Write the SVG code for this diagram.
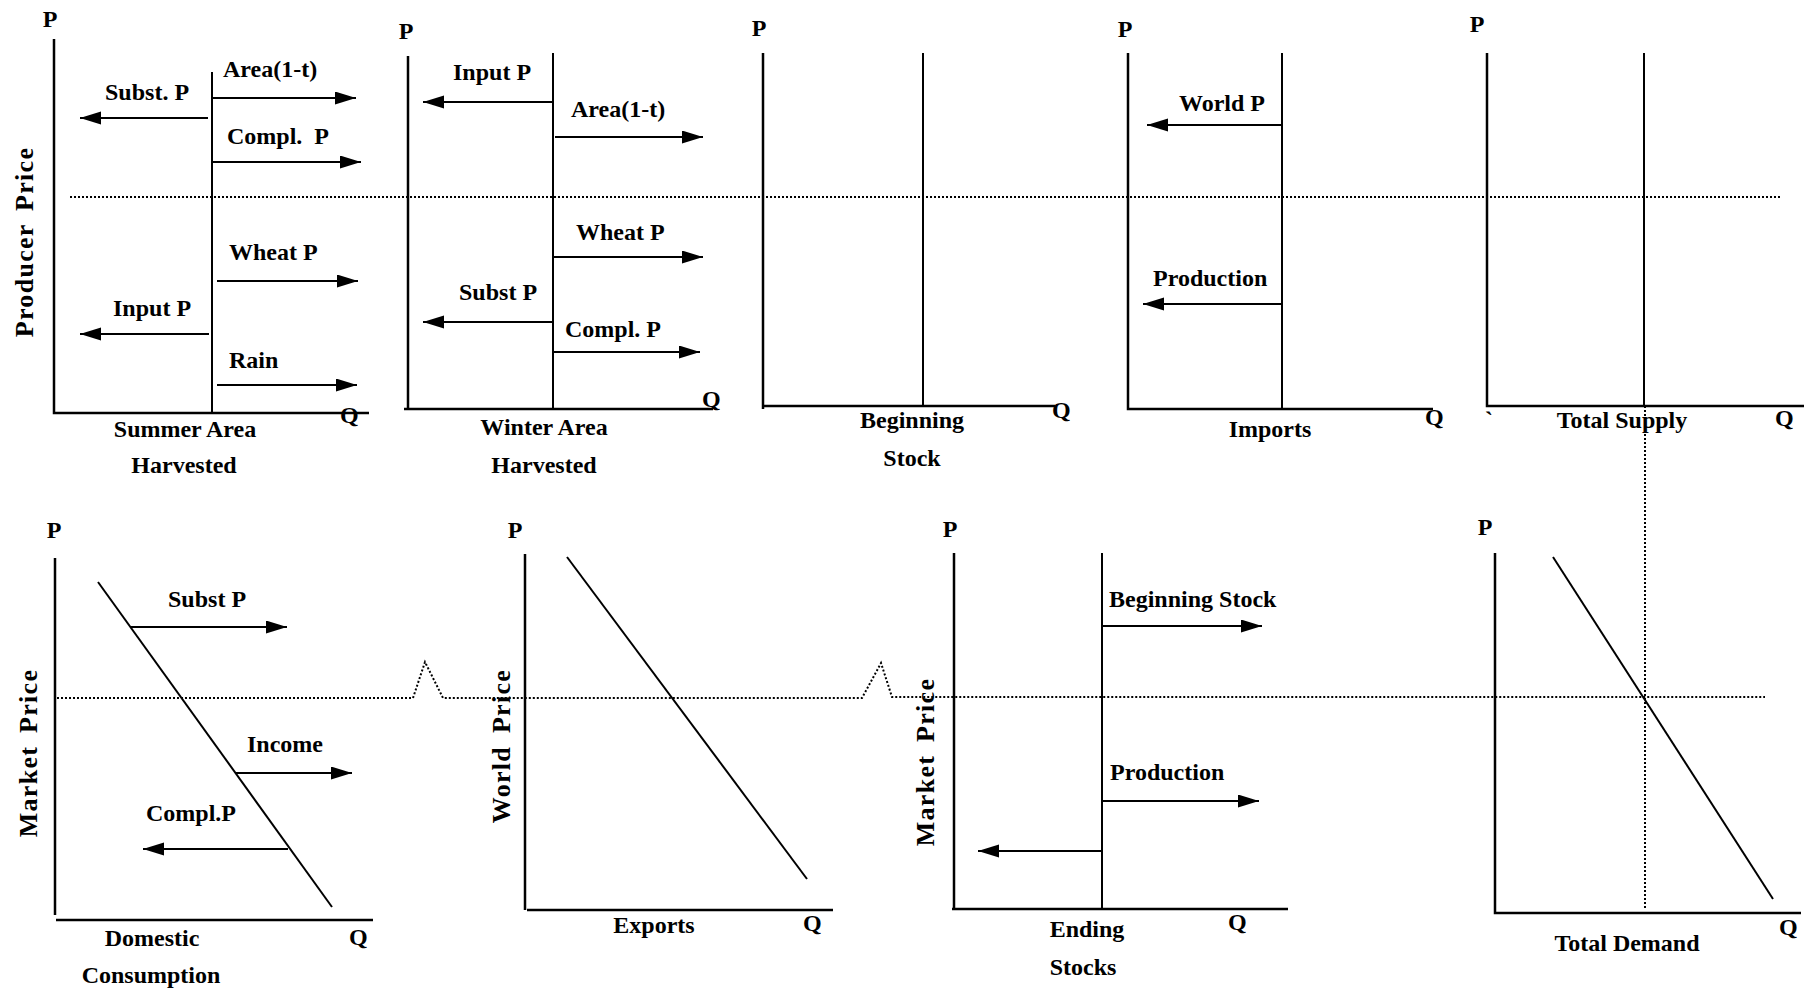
<svg xmlns="http://www.w3.org/2000/svg" width="1805" height="992" viewBox="0 0 1805 992">
<style>
text{font-family:"Liberation Serif","Times New Roman",serif;font-weight:bold;font-size:24px;fill:#000}
.m{text-anchor:middle}
.ax{fill:none;stroke:#000;stroke-width:2.5}
.ln{fill:none;stroke:#000;stroke-width:2}
.ar{fill:none;stroke:#000;stroke-width:2.2;marker-end:url(#ah)}
.dt{fill:none;stroke:#000;stroke-width:2;stroke-dasharray:2 2}
.vl{font-size:26px;letter-spacing:1.3px;word-spacing:5px;text-anchor:middle}
</style>
<defs>
<marker id="ah" markerUnits="userSpaceOnUse" markerWidth="22" markerHeight="14" refX="21" refY="6.5" orient="auto">
<path d="M0,0 L21,6.5 L0,13 Z" fill="#000"/>
</marker>
</defs>
<rect width="1805" height="992" fill="#fff"/>

<g id="guides">
<path class="dt" d="M70,197 H1782"/>
<path class="dt" d="M57,698 H413 L425,662 L443,698 H862 L881,663 L892,697 H1765"/>
<path class="dt" d="M1645,406 V910"/>
</g>

<g id="summer-area">
<path class="ax" d="M54,39 V413 H369"/>
<path class="ln" d="M212,72 V413"/>
<text class="m" x="50" y="27">P</text>
<text x="223" y="77">Area(1-t)</text>
<text x="105" y="100">Subst. P</text>
<text x="227" y="144" xml:space="preserve">Compl.  P</text>
<text x="229" y="260">Wheat P</text>
<text x="113" y="316">Input P</text>
<text x="229" y="368">Rain</text>
<text x="340" y="423">Q</text>
<text class="m" x="185" y="437">Summer Area</text>
<text class="m" x="184" y="473">Harvested</text>
<text class="vl" transform="translate(33,242) rotate(-90)">Producer Price</text>
</g>

<g id="winter-area">
<path class="ax" d="M408,56 V409"/>
<path class="ax" d="M404,409 H713"/>
<path class="ln" d="M553,53 V409"/>
<text class="m" x="406" y="39">P</text>
<text x="453" y="80">Input P</text>
<text x="571" y="117">Area(1-t)</text>
<text x="576" y="240">Wheat P</text>
<text x="459" y="300">Subst P</text>
<text x="565" y="337">Compl. P</text>
<text x="702" y="407">Q</text>
<text class="m" x="544" y="435">Winter Area</text>
<text class="m" x="544" y="473">Harvested</text>
</g>

<g id="beginning-stock">
<path class="ax" d="M763,53 V409"/>
<path class="ax" d="M763,406 H1055"/>
<path class="ln" d="M923,53 V406"/>
<text class="m" x="759" y="36">P</text>
<text x="1052" y="418">Q</text>
<text class="m" x="912" y="428">Beginning</text>
<text class="m" x="912" y="466">Stock</text>
</g>

<g id="imports">
<path class="ax" d="M1128,53 V409 H1433"/>
<path class="ln" d="M1282,53 V409"/>
<text class="m" x="1125" y="37">P</text>
<text x="1179" y="111">World P</text>
<text x="1153" y="286">Production</text>
<text x="1425" y="425">Q</text>
<text class="m" x="1270" y="437">Imports</text>
</g>

<g id="total-supply">
<path class="ax" d="M1487,53 V406 H1804"/>
<path class="ln" d="M1644,53 V406"/>
<text class="m" x="1477" y="32">P</text>
<text x="1485" y="428">`</text>
<text x="1775" y="426">Q</text>
<text class="m" x="1622" y="428">Total Supply</text>
</g>

<g id="domestic-consumption">
<path class="ax" d="M55,558 V915"/>
<path class="ax" d="M56,920 H373"/>
<path class="ln" d="M98,582 L332,907"/>
<text class="m" x="54" y="538">P</text>
<text x="168" y="607">Subst P</text>
<text x="247" y="752">Income</text>
<text x="146" y="821">Compl.P</text>
<text x="349" y="945">Q</text>
<text class="m" x="152" y="946">Domestic</text>
<text class="m" x="151" y="983">Consumption</text>
<text class="vl" transform="translate(37,753) rotate(-90)">Market Price</text>
</g>

<g id="exports">
<path class="ax" d="M525,554 V910"/>
<path class="ax" d="M527,910 H833"/>
<path class="ln" d="M567,557 L807,879"/>
<text class="m" x="515" y="538">P</text>
<text class="m" x="654" y="933">Exports</text>
<text x="803" y="931">Q</text>
<text class="vl" transform="translate(510,746) rotate(-90)">World Price</text>
</g>

<g id="ending-stocks">
<path class="ax" d="M954,553 V909"/>
<path class="ax" d="M952,909 H1288"/>
<path class="ln" d="M1102,553 V909"/>
<text class="m" x="950" y="537">P</text>
<text x="1109" y="607">Beginning Stock</text>
<text x="1110" y="780">Production</text>
<text x="1228" y="930">Q</text>
<text class="m" x="1087" y="937">Ending</text>
<text class="m" x="1083" y="975">Stocks</text>
<text class="vl" transform="translate(934,762) rotate(-90)">Market Price</text>
</g>

<g id="total-demand">
<path class="ax" d="M1495,553 V913 H1801"/>
<path class="ln" d="M1553,557 L1773,899"/>
<text class="m" x="1485" y="535">P</text>
<text x="1779" y="935">Q</text>
<text class="m" x="1627" y="951">Total Demand</text>
</g>

<g id="connectors">
<line class="ar" x1="208" y1="118" x2="80" y2="118"/>
<line class="ar" x1="212" y1="98" x2="356" y2="98"/>
<line class="ar" x1="212" y1="162" x2="361" y2="162"/>
<line class="ar" x1="217" y1="281" x2="358" y2="281"/>
<line class="ar" x1="209" y1="334" x2="80" y2="334"/>
<line class="ar" x1="217" y1="385" x2="357" y2="385"/>
<line class="ar" x1="553" y1="102" x2="423" y2="102"/>
<line class="ar" x1="555" y1="137" x2="703" y2="137"/>
<line class="ar" x1="553" y1="257" x2="703" y2="257"/>
<line class="ar" x1="553" y1="322" x2="423" y2="322"/>
<line class="ar" x1="553" y1="352" x2="700" y2="352"/>
<line class="ar" x1="1282" y1="125" x2="1147" y2="125"/>
<line class="ar" x1="1282" y1="304" x2="1143" y2="304"/>
<line class="ar" x1="131" y1="627" x2="287" y2="627"/>
<line class="ar" x1="236" y1="773" x2="352" y2="773"/>
<line class="ar" x1="288" y1="849" x2="143" y2="849"/>
<line class="ar" x1="1102" y1="626" x2="1262" y2="626"/>
<line class="ar" x1="1102" y1="801" x2="1259" y2="801"/>
<line class="ar" x1="1102" y1="851" x2="978" y2="851"/>
</g>
</svg>
